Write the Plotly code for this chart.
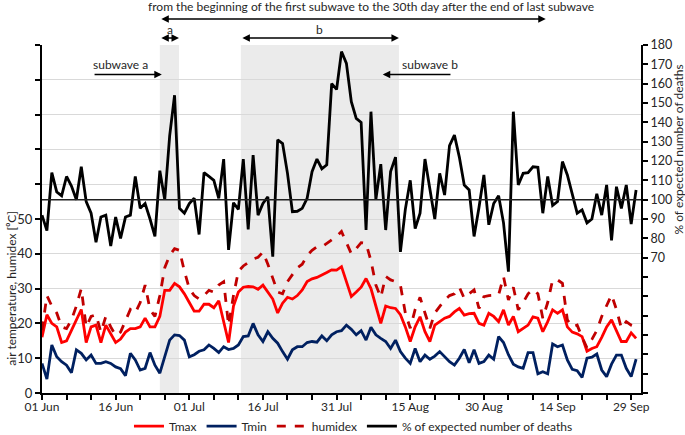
import pandas as pd
import plotly.graph_objects as go

start = "2015-06-01"
n_days = 122

tmax = [16, 22.5, 20, 19, 14.5, 15, 18, 21, 24, 14.5,
        19, 19.5, 14.5, 19.5, 17, 14.5, 15.5, 17.5, 18.5, 18.5,
        19, 21.5, 19, 19, 22, 29.5, 29.5, 31.5, 30.5, 28.5,
        26, 23.5, 23.5, 25.5, 25.5, 24.5, 26.5, 20.5, 14.5, 25,
        29, 30.4, 30.6, 30.5, 29.8, 31, 29, 27, 23, 25.8,
        27.5, 27, 28, 29.6, 32, 32.8, 33.2, 33.8, 34.6, 35.4,
        35.3, 36.3, 32, 27.7, 29, 30.4, 32.9, 30, 25, 20,
        25, 24.5, 24.3, 22.5, 19, 14.8, 19, 21.9, 17.6, 14.8,
        19.5, 20.5, 21.5, 22, 23.3, 24.3, 22.4, 22.8, 22.9, 20,
        19.5, 22.9, 22, 20.5, 23.9, 19.5, 22, 17.6, 18.5, 19.5,
        21.9, 21.5, 17.6, 20.5, 23.9, 22.9, 23.9, 19, 17.5, 17,
        16.2, 12, 12.8, 13.3, 16, 19, 21, 18, 14.8, 14.8,
        17.3, 15.7]

tmin = [8.5, 4, 13.8, 10.4, 9, 8, 5.8, 12.4, 11.4, 9.5,
        10.9, 8.5, 8.5, 9, 8.5, 7.5, 7, 5, 11.4, 9.5,
        6.6, 7.1, 11.6, 8, 5.7, 10.4, 15.2, 16.7, 16.5, 15.2,
        10.4, 11, 12, 12.4, 13.8, 12.8, 11.6, 13.3, 12.5, 12.8,
        13.8, 16.2, 16.4, 20, 16.7, 14.8, 17.6, 15.7, 14.3, 11.9,
        9.7, 12.4, 13.3, 13.3, 14.5, 14.8, 14.6, 16.4, 15, 16.7,
        17.6, 17.9, 19.5, 18.3, 16.7, 17.9, 15.2, 18.9, 16.7, 15.7,
        14.8, 12.8, 15.2, 11.9, 10, 8.5, 12.8, 9, 10.9, 9.7,
        10.6, 11.9, 10.5, 9, 8, 10, 12.5, 8.7, 12.4, 8.5,
        9, 10.9, 9.7, 16.2, 14.5, 11, 8.3, 7.5, 7.1, 11.6,
        11.6, 5.5, 6.1, 5.5, 14.1, 13.3, 13.8, 9.5, 6.8, 6.4,
        4.5, 10, 10.3, 11.2, 6.6, 4.7, 8.3, 10.9, 10.9, 7.1,
        4.7, 9.7]

humidex = [18, 28, 25, 23, 19, 18.5, 21, 25, 30, 19,
           22, 22.5, 17.5, 22, 19, 16.5, 17.5, 21, 24, 23,
           26, 31, 24, 22, 28, 36, 39.5, 41.5, 41, 35,
           30, 28, 27, 28, 29.5, 29, 31, 32, 19.5, 28,
           35, 36.5, 37.5, 38.5, 39, 40.5, 37, 33, 29, 28.5,
           32, 34, 36, 37, 39.5, 41, 42, 42, 43, 44,
           45, 46.4, 43, 40, 41.5, 43.2, 43, 38, 31, 27.5,
           33.5, 32.5, 32, 31, 23, 18.6, 24, 27.5, 23, 18.6,
           23, 25, 26.7, 28, 28.5, 30.4, 27.2, 28.5, 29.6, 24.3,
           27.7, 28, 28.2, 28.2, 33.4, 26.7, 30.4, 23.9, 26, 28.5,
           29.8, 28.5, 21.5, 26, 32.5, 32.5, 31.5, 21, 19, 19.5,
           16, 13, 15.4, 18, 22, 25, 28.2, 24, 18.6, 20.5,
           19.5, 19]

deaths = [92, 84, 114, 104, 102, 112, 107, 100, 117, 99,
          93, 78, 91, 92, 76, 91, 80, 91, 92, 112,
          95.5, 98, 90, 81, 115, 100, 133, 154, 95.5, 93,
          98, 100.7, 82, 114, 112, 110, 100.7, 121, 74, 98.4,
          95, 121, 84.6, 123, 92, 98, 101.5, 70.5, 131, 129,
          113.6, 93.8, 94, 95.5, 100.7, 114.5, 121, 116, 118, 160,
          157, 176.6, 170.5, 150.7, 142, 140, 84.3, 145.5, 100, 118.4,
          84.3, 114.5, 122, 73, 95, 110, 85, 93, 121, 105,
          90, 113.6, 102.4, 128, 133.4, 122, 107.6, 105, 81, 96,
          112.8, 87, 98, 102, 88, 62.8, 145.5, 107.6, 113.6, 114,
          117, 116.7, 93, 112, 97, 99, 119.7, 112.8, 103, 93,
          94.7, 88, 90, 103, 92, 107.6, 79, 106.7, 95.5, 107.6,
          87.4, 105]

left_ticks = list(range(0, 101, 10))
left_labels = ["0", "10", "20", "30", "40", "50", "", "", "", "", ""]
right_ticks = list(range(0, 181, 10))
right_labels = [""] * 7 + [str(v) for v in range(70, 181, 10)]

dates = pd.date_range(start, periods=n_days, freq="D")
base = pd.Timestamp(start)


def day(d):
    return base + pd.Timedelta(days=d)


FONT = "Lato"
TXT = "#262626"

fig = go.Figure()
fig.add_trace(go.Scatter(x=dates, y=tmax, name="Tmax", mode="lines",
                         line=dict(color="#FF0000", width=2.8)))
fig.add_trace(go.Scatter(x=dates, y=tmin, name="Tmin", mode="lines",
                         line=dict(color="#002060", width=2.8)))
fig.add_trace(go.Scatter(x=dates, y=humidex, name="humidex", mode="lines",
                         line=dict(color="#C00000", width=2.8, dash="dash")))
fig.add_trace(go.Scatter(x=dates, y=deaths, name="% of expected number of deaths",
                         mode="lines", yaxis="y2",
                         line=dict(color="#000000", width=2.8)))

# shaded subwaves
for a, b in [(24.0, 27.9), (40.5, 72.7)]:
    fig.add_shape(type="rect", xref="x", yref="paper", x0=day(a), x1=day(b),
                  y0=0, y1=1, fillcolor="#EBEBEB", line_width=0, layer="below")

# 100 % reference line
fig.add_shape(type="line", xref="paper", yref="y2", x0=0, x1=1, y0=100, y1=100,
              line=dict(color="#202020", width=1.5))


def label(x, y, text, xref="x", angle=0):
    return dict(x=x, y=y, xref=xref, yref="paper", showarrow=False, text=text,
                xanchor="center", yanchor="middle", textangle=angle,
                font=dict(size=12, color=TXT, family=FONT))


def arrow(x_head, x_tail, y, both=False):
    return dict(x=x_head, y=y, xref="x", yref="paper", ax=x_tail, ay=0,
                axref="x", ayref="pixel", text="", showarrow=True, arrowhead=2,
                arrowside="end+start" if both else "end", arrowsize=1,
                arrowwidth=1.5, arrowcolor="black")


ann = [
    arrow(day(102.6), day(24.0), 1.075, both=True),
    label(day(67.0), 1.112,
          "from the beginning of the first subwave to the 30th day after the end of last subwave"),
    arrow(day(27.9), day(24.0), 1.02, both=True),
    label(day(26.0), 1.045, "a"),
    arrow(day(72.7), day(40.5), 1.02, both=True),
    label(day(56.5), 1.045, "b"),
    arrow(day(24.4), day(10.4), 0.915),
    label(day(15.9), 0.945, "subwave a"),
    arrow(day(69.4), day(83.5), 0.915),
    label(day(79.0), 0.945, "subwave b"),
    label(-0.05, 0.30, "air temperature, humidex [⁰C]", xref="paper", angle=-90),
    label(1.062, 0.70, "% of expected number of deaths", xref="paper", angle=-90),
]

fig.update_layout(
    width=685, height=435,
    margin=dict(l=42, r=44, t=45, b=42, autoexpand=False),
    plot_bgcolor="white", paper_bgcolor="white",
    font=dict(family=FONT, size=12, color=TXT),
    showlegend=True,
    legend=dict(orientation="h", x=0.52, xanchor="center", y=-0.095, yanchor="middle",
                font=dict(size=12, family=FONT, color=TXT),
                itemwidth=30, tracegroupgap=0, bgcolor="rgba(0,0,0,0)"),
    annotations=ann,
    xaxis=dict(range=[day(0), day(122)], type="date", automargin=False,
               tick0=start, dtick=15 * 86400000, tickformat="%d %b",
               ticks="outside", ticklen=5, tickwidth=1.5, tickcolor="black",
               ticklabelstandoff=-3,
               showline=True, linecolor="black", linewidth=2,
               showgrid=False, zeroline=False,
               minor=dict(dtick=5 * 86400000, tick0=start, ticks="outside",
                          ticklen=5, tickwidth=1.5, tickcolor="black", showgrid=False),
               tickfont=dict(size=12, family=FONT, color=TXT)),
    yaxis=dict(range=[0, 100], tickvals=left_ticks, ticktext=left_labels, automargin=False,
               ticks="outside", ticklen=5, tickwidth=1.5, tickcolor="black",
               showline=True, linecolor="black", linewidth=2,
               showgrid=True, gridcolor="#D9D9D9", gridwidth=1.2, zeroline=False,
               tickfont=dict(size=13, family=FONT, color=TXT)),
    yaxis2=dict(range=[0, 180], tickvals=right_ticks, ticktext=right_labels, automargin=False,
                overlaying="y", side="right",
                ticks="outside", ticklen=5, tickwidth=1.5, tickcolor="black",
                showline=True, linecolor="black", linewidth=2,
                showgrid=False, zeroline=False,
                tickfont=dict(size=12.5, family=FONT, color=TXT)),
)

fig.write_html("out.html", config={"displayModeBar": False},
               post_script="document.body.style.margin='0px';document.body.style.overflow='hidden';")
